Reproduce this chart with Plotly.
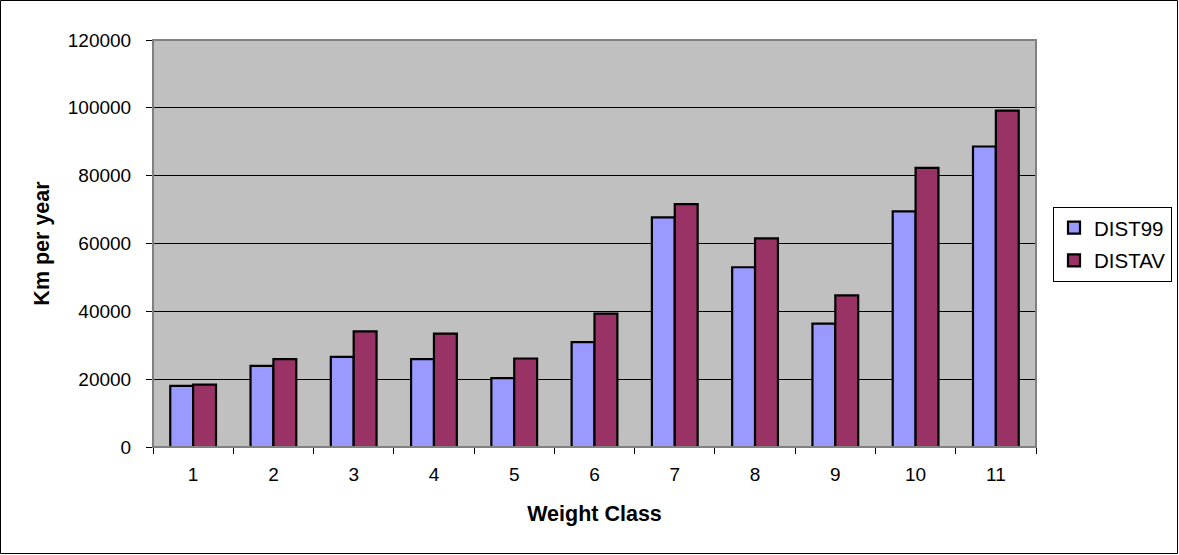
import plotly.graph_objects as go

# Annual distance per weight class
weight_classes = ["1", "2", "3", "4", "5", "6", "7", "8", "9", "10", "11"]
dist99 = [18000, 23900, 26600, 25900, 20300, 30900, 67700, 53000, 36400, 69500, 88600]
distav = [18400, 25900, 34100, 33400, 26100, 39300, 71600, 61500, 44700, 82300, 99200]
y_ticks = [0, 20000, 40000, 60000, 80000, 100000, 120000]

W, H = 1179, 555
ML, MR, MT, MB = 153, 143, 40, 108
PW, PH = W - ML - MR, H - MT - MB

FONT = "Liberation Sans, Arial, sans-serif"

fig = go.Figure()
fig.add_trace(go.Bar(
    x=weight_classes, y=dist99, name="DIST99", legendgroup="a",
    marker=dict(color="#9999FF", line=dict(color="#000000", width=2.2)),
))
fig.add_trace(go.Bar(
    x=weight_classes, y=distav, name="DISTAV", legendgroup="b",
    marker=dict(color="#993366", line=dict(color="#000000", width=2.2)),
))

# plot-area frame (grey) and outer chart border (black)
fig.add_shape(type="rect", xref="paper", yref="paper", x0=0, x1=1, y0=0, y1=1,
              line=dict(color="#808080", width=2), layer="above")
fig.add_shape(type="rect", xref="paper", yref="paper",
              x0=-(ML - 0.5) / PW, x1=1 + (MR - 1.5) / PW,
              y0=-(MB - 1.5) / PH, y1=1 + (MT - 0.5) / PH,
              line=dict(color="#000000", width=1))

fig.update_layout(
    width=W, height=H,
    margin=dict(l=ML, r=MR, t=MT, b=MB, autoexpand=False),
    paper_bgcolor="#FFFFFF",
    plot_bgcolor="#C0C0C0",
    barmode="group",
    bargap=0.43,
    bargroupgap=0,
    font=dict(family=FONT, size=19, color="#000000"),
    showlegend=True,
    legend=dict(
        x=(1053 - ML) / PW, xanchor="left", y=0.59, yanchor="top",
        bgcolor="#FFFFFF", bordercolor="#000000", borderwidth=1,
        font=dict(family=FONT, size=20.5, color="#000000"),
        tracegroupgap=3,
    ),
    xaxis=dict(
        type="category",
        tickson="boundaries",
        ticks="outside", ticklen=6, tickcolor="#000000", tickwidth=1,
        showline=True, linecolor="#000000", linewidth=1,
        showgrid=False,
        tickfont=dict(family=FONT, size=19),
        ticklabelstandoff=10,
        title=dict(text="<b>Weight Class</b>", font=dict(family=FONT, size=21.5), standoff=22),
    ),
    yaxis=dict(
        range=[0, 120000],
        tickvals=y_ticks,
        ticktext=[str(v) for v in y_ticks],
        ticks="outside", ticklen=6, tickcolor="#000000", tickwidth=1,
        showline=True, linecolor="#000000", linewidth=1,
        showgrid=True, gridcolor="#000000", gridwidth=1,
        zeroline=False,
        tickfont=dict(family=FONT, size=19),
        ticklabelstandoff=11,
        title=dict(text="<b>Km per year</b>", font=dict(family=FONT, size=21.5), standoff=12),
    ),
)

fig.write_html("out.html")
